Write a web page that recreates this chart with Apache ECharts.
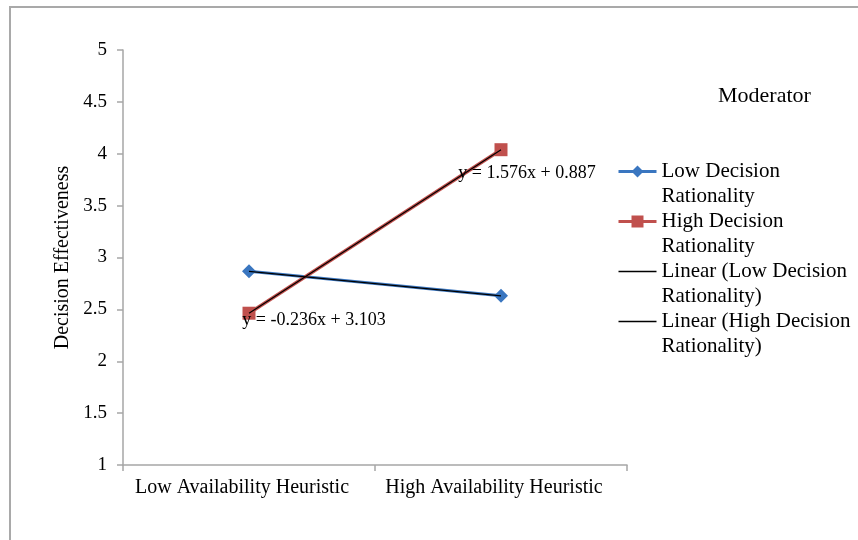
<!DOCTYPE html>
<html>
<head>
<meta charset="utf-8">
<script src="https://cdn.jsdelivr.net/npm/echarts@6/dist/echarts.min.js"></script>
<style>html,body{margin:0;padding:0;background:#fff}#c{width:858px;height:540px}</style>
</head>
<body>
<div id="c"></div>
<script>
const categories = ['Low Availability Heuristic', 'High Availability Heuristic'];
const lowRationality = [2.867, 2.631];
const highRationality = [2.463, 4.039];
const trendLow = [2.867, 2.631];
const trendHigh = [2.463, 4.039];
const eqLow = 'y = -0.236x + 3.103';
const eqHigh = 'y = 1.576x + 0.887';
const yTicks = [1, 1.5, 2, 2.5, 3, 3.5, 4, 4.5, 5];
const legendNames = ['Low Decision Rationality', 'High Decision Rationality', 'Linear (Low Decision Rationality)', 'Linear (High Decision Rationality)'];

const FONT = 'Liberation Serif';
const BLUE = '#3a76c0', RED = '#c0504d';
const chart = echarts.init(document.getElementById('c'));
chart.setOption({
  backgroundColor: '#fff',
  animation: false,
  textStyle: { fontFamily: FONT, color: '#000' },
  graphic: [{
    type: 'rect', shape: { x: 10, y: 7, width: 900, height: 600 },
    style: { fill: 'none', stroke: '#a9a9a9', lineWidth: 2 }, silent: true, z: -10
  }],
  title: {
    text: 'Moderator', left: 713, top: 80,
    textStyle: { fontFamily: FONT, fontSize: 22, fontWeight: 'normal', color: '#000' }
  },
  grid: { left: 123, right: 231, top: 50, bottom: 75 },
  legend: {
    orient: 'vertical', left: 617, top: 134, padding: 0,
    itemWidth: 38, itemHeight: 15, itemGap: -25,
    data: [
      { name: legendNames[0], lineStyle: { width: 3 } },
      { name: legendNames[1], lineStyle: { width: 3 } },
      { name: legendNames[2], lineStyle: { width: 1.5 }, itemStyle: { opacity: 0 } },
      { name: legendNames[3], lineStyle: { width: 1.5 }, itemStyle: { opacity: 0 } }
    ],
    formatter: n => '\n' + n.replace(' Rationality', '\nRationality'),
    textStyle: { fontFamily: FONT, fontSize: 21, lineHeight: 25, color: '#000' }
  },
  xAxis: {
    type: 'category', data: categories, boundaryGap: true,
    axisLine: { lineStyle: { color: '#a6a6a6', width: 1.5 } },
    axisTick: { show: true, interval: 0, length: 6, lineStyle: { color: '#a6a6a6', width: 1.5 } },
    axisLabel: { interval: 0, fontFamily: FONT, fontSize: 20, color: '#000', margin: 13, padding: [0, 14, 0, 0] }
  },
  yAxis: {
    type: 'value', min: 1, max: 5, interval: 0.5,
    name: 'Decision Effectiveness', nameLocation: 'middle', nameGap: 49,
    nameTextStyle: { fontFamily: FONT, fontSize: 20, color: '#000' },
    axisLine: { show: true, lineStyle: { color: '#a6a6a6', width: 1.5 } },
    axisTick: { show: true, length: 6, lineStyle: { color: '#a6a6a6', width: 1.5 } },
    splitLine: { show: false },
    axisLabel: { fontFamily: FONT, fontSize: 19, color: '#000', margin: 16,
      formatter: v => (yTicks.indexOf(v) >= 0 ? String(v) : '') }
  },
  series: [
    {
      name: legendNames[0], type: 'line', data: lowRationality,
      symbol: 'diamond', symbolSize: 14, color: BLUE,
      lineStyle: { width: 3, color: BLUE }, itemStyle: { color: BLUE }, z: 2
    },
    {
      name: legendNames[1], type: 'line', data: highRationality,
      symbol: 'rect', symbolSize: [13, 13], color: RED,
      lineStyle: { width: 3.5, color: RED }, itemStyle: { color: RED }, z: 2
    },
    {
      name: legendNames[2], type: 'line', data: trendLow,
      symbol: 'none', color: '#000', lineStyle: { width: 1.2, color: '#000' }, z: 5,
      markPoint: {
        symbol: 'circle', symbolSize: 0,
        data: [{ coord: [0, trendHigh[0]], value: eqLow }],
        label: { show: true, formatter: eqLow, position: 'inside', offset: [65, 7],
          fontFamily: FONT, fontSize: 18, color: '#000' }
      }
    },
    {
      name: legendNames[3], type: 'line', data: trendHigh,
      symbol: 'none', color: '#000', lineStyle: { width: 1.2, color: '#000' }, z: 5,
      markPoint: {
        symbol: 'circle', symbolSize: 0,
        data: [{ coord: [1, trendHigh[1]], value: eqHigh }],
        label: { show: true, formatter: eqHigh, position: 'inside', offset: [26, 24],
          fontFamily: FONT, fontSize: 18, color: '#000' }
      }
    }
  ]
});
</script>
</body>
</html>
